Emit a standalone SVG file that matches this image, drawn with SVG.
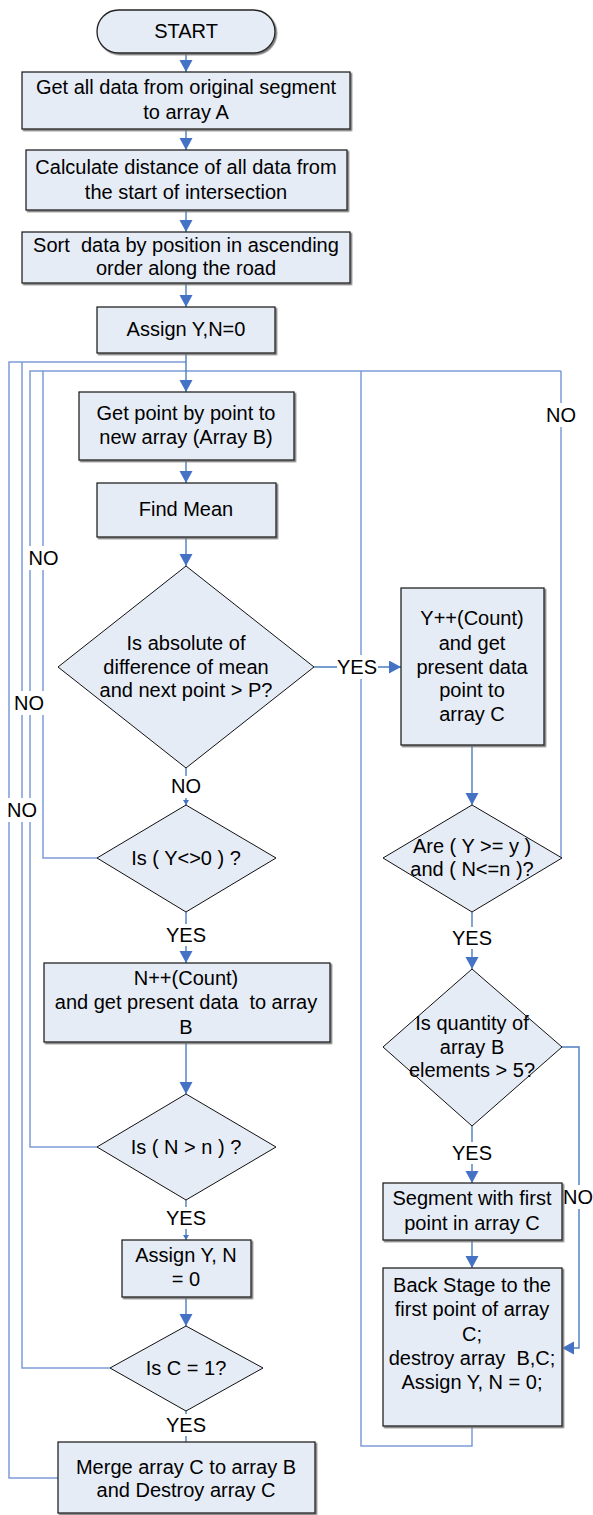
<svg xmlns="http://www.w3.org/2000/svg" width="593" height="1515" viewBox="0 0 593 1515">
<style>
text{font-family:"Liberation Sans",Arial,sans-serif;font-size:20px;fill:#000;text-anchor:middle;white-space:pre}
.box{fill:#e6ecf6;stroke:#222;stroke-width:1.3;filter:url(#sh)}
.dia{fill:#e6ecf6;stroke:#111;stroke-width:1}
.ln{fill:none;stroke:#4a7ebb;stroke-width:1.4}
.lp{fill:none;stroke:#7b9cd8;stroke-width:1.5}
.lb{fill:#fff}
</style>
<defs>
<filter id="sh" x="-5%" y="-5%" width="115%" height="115%"><feDropShadow dx="1.5" dy="1.5" stdDeviation="0.4" flood-color="#777"/></filter>
<marker id="a" markerUnits="userSpaceOnUse" markerWidth="14" markerHeight="14" refX="12" refY="6.5" orient="auto"><path d="M0,0 L12,6.5 L0,13 z" fill="#4472c4"/></marker>
<marker id="s" markerUnits="userSpaceOnUse" markerWidth="7" markerHeight="7" refX="5" refY="3" orient="auto"><path d="M0,0 L5,3 L0,6 z" fill="#4472c4"/></marker>
</defs>
<g id="connectors">
<path class="lp" d="M58,1478 H9 V362 H186"/>
<path class="lp" d="M110,1368 H22 V362"/>
<path class="lp" d="M97,1147 H30 V371 H561"/>
<path class="lp" d="M97,858 H43 V371"/>
<path class="lp" d="M472,1426 V1446 H361 V371"/>
<path class="lp" d="M562,858 H561 V371"/>
<path class="ln" d="M186,53 V72" marker-end="url(#a)"/>
<path class="ln" d="M186,129 V150" marker-end="url(#a)"/>
<path class="ln" d="M186,210 V232" marker-end="url(#a)"/>
<path class="ln" d="M186,283 V307" marker-end="url(#a)"/>
<path class="ln" d="M186,353 V392" marker-end="url(#a)"/>
<path class="ln" d="M186,460 V483" marker-end="url(#a)"/>
<path class="ln" d="M186,537 V566" marker-end="url(#a)"/>
<path class="ln" d="M186,768 V805" marker-end="url(#s)"/>
<path class="ln" d="M314,667 H401" marker-end="url(#a)"/>
<path class="ln" d="M472,745 V805" marker-end="url(#a)"/>
<path class="ln" d="M472,912 V969" marker-end="url(#a)"/>
<path class="ln" d="M186,912 V963" marker-end="url(#a)"/>
<path class="ln" d="M186,1042 V1094" marker-end="url(#a)"/>
<path class="ln" d="M186,1200 V1240" marker-end="url(#s)"/>
<path class="ln" d="M186,1297 V1326" marker-end="url(#a)"/>
<path class="ln" d="M186,1411 V1442"/>
<path class="ln" d="M472,1126 V1183" marker-end="url(#a)"/>
<path class="ln" d="M472,1240 V1268" marker-end="url(#a)"/>
<path class="ln" d="M562,1047 H579 V1348 H562" marker-end="url(#a)"/>
<g id="labels">
<rect class="lb" x="546" y="403" width="31" height="24"/><text x="561" y="422">NO</text>
<rect class="lb" x="28" y="546" width="31" height="24"/><text x="43.5" y="565">NO</text>
<rect class="lb" x="14" y="691" width="31" height="24"/><text x="29" y="710">NO</text>
<rect class="lb" x="7" y="798" width="31" height="24"/><text x="22" y="817">NO</text>
<rect class="lb" x="337" y="655" width="41" height="24"/><text x="357" y="674">YES</text>
<rect class="lb" x="170" y="776" width="31" height="22"/><text x="186" y="793">NO</text>
<rect class="lb" x="165" y="924" width="41" height="22"/><text x="186" y="942">YES</text>
<rect class="lb" x="451" y="927" width="41" height="22"/><text x="472" y="945">YES</text>
<rect class="lb" x="165" y="1207" width="41" height="22"/><text x="186" y="1225">YES</text>
<rect class="lb" x="451" y="1142" width="41" height="22"/><text x="472" y="1160">YES</text>
<rect class="lb" x="563" y="1185" width="30" height="24"/><text x="578" y="1204">NO</text>
<rect class="lb" x="165" y="1414" width="41" height="22"/><text x="186" y="1432">YES</text>
</g>
</g>
<g id="start"><rect class="box" x="97" y="10" width="178" height="43" rx="21.5"/><text x="186" y="38">START</text></g>
<g id="get-all-data"><rect class="box" x="22" y="72" width="328" height="57"/><text x="186" y="94">Get all data from original segment</text><text x="186" y="119">to array A</text></g>
<g id="calc-distance"><rect class="box" x="26" y="150" width="321" height="60"/><text x="186" y="174">Calculate distance of all data from</text><text x="186" y="199">the start of intersection</text></g>
<g id="sort-data"><rect class="box" x="22" y="232" width="328" height="51"/><text x="186" y="252">Sort  data by position in ascending</text><text x="186" y="275">order along the road</text></g>
<g id="assign-yn"><rect class="box" x="97" y="307" width="178" height="46"/><text x="186" y="336">Assign Y,N=0</text></g>
<g id="get-point"><rect class="box" x="79" y="392" width="215" height="68"/><text x="186" y="420">Get point by point to</text><text x="186" y="444">new array (Array B)</text></g>
<g id="find-mean"><rect class="box" x="97" y="483" width="179" height="54"/><text x="186" y="516">Find Mean</text></g>
<g id="is-absolute"><path class="dia" d="M186,566 L314,667 L186,768 L58,667 Z"/><text x="186" y="650">Is absolute of</text><text x="186" y="674">difference of mean</text><text x="186" y="697">and next point &gt; P?</text></g>
<g id="y-count"><rect class="box" x="401" y="588" width="143" height="157"/><text x="472" y="625">Y++(Count)</text><text x="472" y="650">and get</text><text x="472" y="674">present data</text><text x="472" y="697">point to</text><text x="472" y="721">array C</text></g>
<g id="are-y-n"><path class="dia" d="M472,805 L562,858 L472,912 L383,858 Z"/><text x="472" y="853">Are ( Y &gt;= y )</text><text x="472" y="876">and ( N&lt;=n )?</text></g>
<g id="is-y-ne-0"><path class="dia" d="M186,805 L276,858 L186,912 L97,858 Z"/><text x="186" y="865">Is ( Y&lt;&gt;0 ) ?</text></g>
<g id="n-count"><rect class="box" x="44" y="963" width="286" height="79"/><text x="186" y="985">N++(Count)</text><text x="186" y="1009">and get present data  to array</text><text x="186" y="1034">B</text></g>
<g id="is-n-gt-n"><path class="dia" d="M186,1094 L276,1147 L186,1200 L97,1147 Z"/><text x="186" y="1154">Is ( N &gt; n ) ?</text></g>
<g id="is-quantity"><path class="dia" d="M472,969 L562,1047 L472,1126 L383,1047 Z"/><text x="472" y="1030">Is quantity of</text><text x="472" y="1054">array B</text><text x="472" y="1077">elements &gt; 5?</text></g>
<g id="segment"><rect class="box" x="383" y="1183" width="179" height="57"/><text x="472" y="1205">Segment with first</text><text x="472" y="1230">point in array C</text></g>
<g id="assign-yn-0"><rect class="box" x="122" y="1240" width="129" height="57"/><text x="186" y="1262">Assign Y, N</text><text x="186" y="1286">= 0</text></g>
<g id="is-c-1"><path class="dia" d="M186,1326 L263,1368 L186,1411 L110,1368 Z"/><text x="186" y="1375">Is C = 1?</text></g>
<g id="back-stage"><rect class="box" x="383" y="1268" width="179" height="158"/><text x="472" y="1292">Back Stage to the</text><text x="472" y="1316">first point of array</text><text x="472" y="1341">C;</text><text x="472" y="1365">destroy array  B,C;</text><text x="472" y="1389">Assign Y, N = 0;</text></g>
<g id="merge"><rect class="box" x="58" y="1442" width="257" height="71"/><text x="186" y="1474">Merge array C to array B</text><text x="186" y="1497">and Destroy array C</text></g>
</svg>
